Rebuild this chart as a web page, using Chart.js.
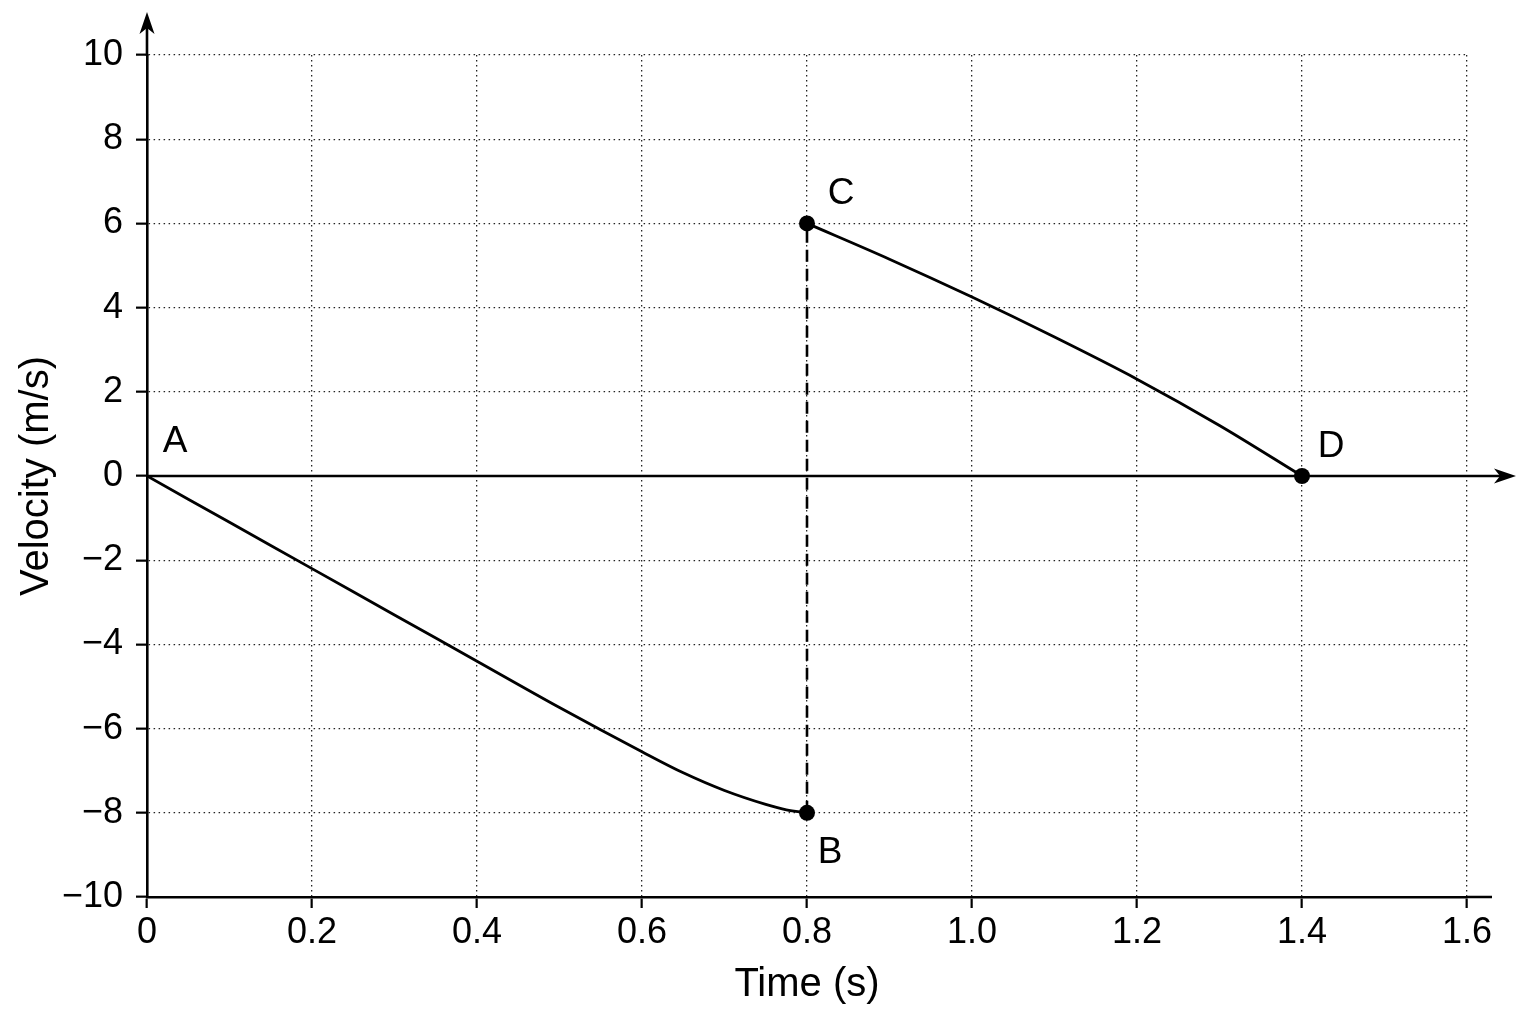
<!DOCTYPE html>
<html>
<head>
<meta charset="utf-8">
<script src="https://cdn.jsdelivr.net/npm/chart.js@4.4.0/dist/chart.umd.min.js"></script>
<style>
  html, body { margin: 0; padding: 0; background: #fff; }
  canvas { display: block; }
</style>
</head>
<body>
<canvas id="myChart" width="1536" height="1024"></canvas>
<script>
// time (s) / velocity (m/s)
var abTime = [0, 0.1, 0.2, 0.3, 0.4, 0.5, 0.6, 0.65, 0.7, 0.75, 0.775, 0.8];
var abVel = [0, -1.1, -2.2, -3.3, -4.4, -5.5, -6.55, -7.05, -7.47, -7.8, -7.93, -8];
var cdTime = [0.8, 0.9, 1.0, 1.1, 1.2, 1.3, 1.4];
var cdVel = [6, 5.15, 4.25, 3.3, 2.3, 1.2, 0];
var jumpTime = [0.8, 0.8];
var jumpVel = [-8, 6];
var dotTime = [0.8, 0.8, 1.4];
var dotVel = [-8, 6, 0];
var pointNames = ["A", "B", "C", "D"];
var pointTime = [0, 0.8, 0.8, 1.4];
var pointVel = [0, -8, 6, 0];
var xTickLabels = ["0", "0.2", "0.4", "0.6", "0.8", "1.0", "1.2", "1.4", "1.6"];
var yTickLabels = ["\u221210", "\u22128", "\u22126", "\u22124", "\u22122", "0", "2", "4", "6", "8", "10"];

var FONT = "'Liberation Sans', Arial, sans-serif";

function pairs(xs, ys) {
  return xs.map(function (x, i) { return { x: x, y: ys[i] }; });
}

function arrowHead(ctx, tx, ty, dx, dy) {
  var len = 22, half = 7.5, notch = 6;
  var px = -dy, py = dx;
  ctx.beginPath();
  ctx.moveTo(tx, ty);
  ctx.lineTo(tx - dx * len + px * half, ty - dy * len + py * half);
  ctx.lineTo(tx - dx * (len - notch), ty - dy * (len - notch));
  ctx.lineTo(tx - dx * len - px * half, ty - dy * len - py * half);
  ctx.closePath();
  ctx.fill();
}

// axis extensions + arrows, under the curves
var axisArrows = {
  id: "axisArrows",
  beforeDatasetsDraw: function (chart) {
    var ctx = chart.ctx, a = chart.chartArea;
    var y0 = chart.scales.y.getPixelForValue(0);
    ctx.save();
    ctx.strokeStyle = "#000";
    ctx.fillStyle = "#000";
    ctx.lineWidth = 2.6;
    ctx.beginPath();
    ctx.moveTo(a.left, a.top + 1);
    ctx.lineTo(a.left, 22);
    ctx.moveTo(a.left, y0);
    ctx.lineTo(a.right + 40, y0);
    ctx.moveTo(a.right, a.bottom);
    ctx.lineTo(a.right + 25, a.bottom);
    ctx.stroke();
    arrowHead(ctx, a.left, 12, 0, -1);
    arrowHead(ctx, a.right + 49, y0, 1, 0);
    ctx.restore();
  }
};

// letters next to the points
var labelOffsets = [[28, -34], [23, 40], [34, -30], [29, -29]];
var pointLetters = {
  id: "pointLetters",
  afterDatasetsDraw: function (chart) {
    var ctx = chart.ctx;
    ctx.save();
    ctx.fillStyle = "#000";
    ctx.font = "37px " + FONT;
    ctx.textAlign = "center";
    ctx.textBaseline = "middle";
    pointNames.forEach(function (name, i) {
      var px = chart.scales.x.getPixelForValue(pointTime[i]);
      var py = chart.scales.y.getPixelForValue(pointVel[i]);
      ctx.fillText(name, px + labelOffsets[i][0], py + labelOffsets[i][1]);
    });
    ctx.restore();
  }
};

var ctx = document.getElementById("myChart").getContext("2d");
var chart = new Chart(ctx, {
  type: "scatter",
  data: {
    datasets: [
      {
        data: pairs(abTime, abVel),
        showLine: true,
        borderColor: "#000",
        borderWidth: 2.8,
        pointRadius: 0,
        cubicInterpolationMode: "monotone"
      },
      {
        data: pairs(cdTime, cdVel),
        showLine: true,
        borderColor: "#000",
        borderWidth: 2.8,
        pointRadius: 0,
        cubicInterpolationMode: "monotone"
      },
      {
        data: pairs(jumpTime, jumpVel),
        showLine: true,
        borderColor: "#000",
        borderWidth: 2.6,
        borderDash: [12, 7],
        pointRadius: 0
      },
      {
        data: pairs(dotTime, dotVel),
        showLine: false,
        pointRadius: 8,
        pointBackgroundColor: "#000",
        pointBorderWidth: 0
      }
    ]
  },
  options: {
    responsive: false,
    animation: false,
    devicePixelRatio: 1,
    layout: { padding: { top: 55, right: 69, left: 0, bottom: 0 } },
    plugins: {
      legend: { display: false },
      tooltip: { enabled: false }
    },
    scales: {
      x: {
        type: "linear",
        min: 0,
        max: 1.6,
        ticks: {
          stepSize: 0.2,
          autoSkip: false,
          maxRotation: 0,
          padding: 3,
          color: "#000",
          font: { family: FONT, size: 36 },
          callback: function (v, i) { return xTickLabels[i]; }
        },
        grid: { color: "#222", lineWidth: 1.3, tickColor: "#000", tickWidth: 2.2, tickLength: 11 },
        border: { color: "#000", width: 2.6, dash: [1.5, 3.5] },
        title: {
          display: true,
          text: "Time (s)",
          color: "#000",
          font: { family: FONT, size: 40 },
          padding: { top: 0, bottom: 15 }
        },
        afterFit: function (s) { s.height = 127; }
      },
      y: {
        type: "linear",
        min: -10,
        max: 10,
        ticks: {
          stepSize: 2,
          padding: 13,
          color: "#000",
          font: { family: FONT, size: 36 },
          callback: function (v, i) { return yTickLabels[i]; }
        },
        grid: { color: "#222", lineWidth: 1.3, tickColor: "#000", tickWidth: 2.2, tickLength: 11 },
        border: { color: "#000", width: 2.6, dash: [1.5, 3.5] },
        title: {
          display: true,
          text: "Velocity (m/s)",
          color: "#000",
          font: { family: FONT, size: 40 },
          padding: { top: 13, bottom: 0 }
        },
        afterFit: function (s) { s.width = 147; }
      }
    }
  },
  plugins: [axisArrows, pointLetters]
});
</script>
</body>
</html>
